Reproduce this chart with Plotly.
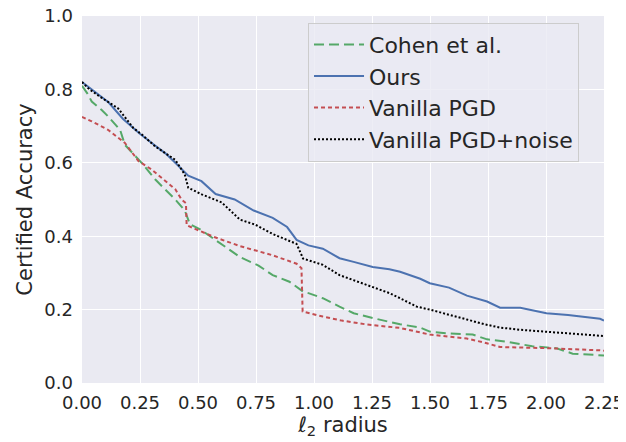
import plotly.graph_objects as go

# Cohen et al.
cohen_r = [0, 0.022, 0.042, 0.085, 0.113, 0.164, 0.185, 0.257, 0.315, 0.402, 0.443, 0.465, 0.516, 0.586, 0.607,
           0.681, 0.761, 0.822, 0.894, 0.953, 0.976, 1.038, 1.110, 1.171, 1.253, 1.371, 1.458, 1.499, 1.582, 1.684,
           1.746, 1.838, 1.941, 2.043, 2.115, 2.233, 2.25]
cohen_v = [0.81, 0.79, 0.767, 0.744, 0.726, 0.69, 0.649, 0.60, 0.555, 0.50, 0.47, 0.433, 0.416, 0.385, 0.375,
           0.343, 0.32, 0.294, 0.276, 0.249, 0.245, 0.231, 0.208, 0.19, 0.177, 0.16, 0.151, 0.14, 0.135, 0.132,
           0.119, 0.112, 0.10, 0.095, 0.08, 0.076, 0.075]

# Ours
ours_r = [0, 0.043, 0.114, 0.176, 0.248, 0.309, 0.361, 0.402, 0.458, 0.515, 0.576, 0.658, 0.740, 0.822, 0.884,
          0.925, 0.976, 1.038, 1.110, 1.171, 1.253, 1.325, 1.371, 1.458, 1.499, 1.582, 1.659, 1.746, 1.802, 1.889,
          2.002, 2.095, 2.233, 2.25]
ours_v = [0.82, 0.80, 0.765, 0.72, 0.68, 0.65, 0.625, 0.60, 0.565, 0.55, 0.515, 0.50, 0.47, 0.45, 0.425,
          0.39, 0.375, 0.366, 0.34, 0.33, 0.316, 0.31, 0.303, 0.284, 0.272, 0.26, 0.238, 0.222, 0.205, 0.205,
          0.19, 0.185, 0.175, 0.17]

# Vanilla PGD
pgd_r = [0, 0.042, 0.112, 0.185, 0.243, 0.299, 0.402, 0.429, 0.448, 0.451, 0.487, 0.573, 0.681, 0.822, 0.925,
         0.946, 0.951, 1.038, 1.120, 1.222, 1.371, 1.499, 1.659, 1.735, 1.802, 2.002, 2.233, 2.25]
pgd_v = [0.725, 0.713, 0.69, 0.654, 0.605, 0.582, 0.528, 0.50, 0.49, 0.43, 0.42, 0.397, 0.373, 0.348, 0.325,
         0.313, 0.195, 0.181, 0.17, 0.16, 0.15, 0.132, 0.121, 0.11, 0.098, 0.095, 0.089, 0.088]

# Vanilla PGD+noise
noise_r = [0, 0.032, 0.078, 0.128, 0.156, 0.221, 0.258, 0.315, 0.361, 0.402, 0.443, 0.458, 0.516, 0.602, 0.681,
           0.745, 0.822, 0.925, 0.953, 1.038, 1.110, 1.171, 1.253, 1.325, 1.371, 1.443, 1.499, 1.582, 1.659, 1.735,
           1.802, 1.889, 2.002, 2.125, 2.233, 2.25]
noise_v = [0.82, 0.80, 0.78, 0.76, 0.748, 0.695, 0.677, 0.645, 0.625, 0.608, 0.568, 0.532, 0.514, 0.492, 0.445,
           0.432, 0.406, 0.379, 0.339, 0.322, 0.294, 0.28, 0.262, 0.245, 0.231, 0.208, 0.20, 0.185, 0.173, 0.16,
           0.151, 0.145, 0.14, 0.135, 0.13, 0.128]

x_ticks = [0, 0.25, 0.5, 0.75, 1.0, 1.25, 1.5, 1.75, 2.0, 2.25]
x_tick_labels = ["0.00", "0.25", "0.50", "0.75", "1.00", "1.25", "1.50", "1.75", "2.00", "2.25"]
y_ticks = [0, 0.2, 0.4, 0.6, 0.8, 1.0]
y_tick_labels = ["0.0", "0.2", "0.4", "0.6", "0.8", "1.0"]

FONT = "DejaVu Sans"
TXT = "#262626"

fig = go.Figure()
fig.add_trace(go.Scatter(x=cohen_r, y=cohen_v, mode="lines", name="Cohen et al.",
                         line=dict(color="#55A868", width=2, dash="10px,5px")))
fig.add_trace(go.Scatter(x=ours_r, y=ours_v, mode="lines", name="Ours",
                         line=dict(color="#4C72B0", width=2)))
fig.add_trace(go.Scatter(x=pgd_r, y=pgd_v, mode="lines", name="Vanilla PGD",
                         line=dict(color="#C44E52", width=2, dash="4px,3px")))
fig.add_trace(go.Scatter(x=noise_r, y=noise_v, mode="lines", name="Vanilla PGD+noise",
                         line=dict(color="#000000", width=2, dash="2px,2px")))

# the page body adds an 8px offset, so the figure is 8px smaller than the window
fig.update_layout(
    width=618, height=434,
    margin=dict(l=74, r=22, t=8, b=59),
    paper_bgcolor="white",
    plot_bgcolor="#EAEAF2",
    font=dict(family=FONT, color=TXT, size=18),
    showlegend=True,
    legend=dict(x=0.433, y=0.982, xanchor="left", yanchor="top",
                bgcolor="rgba(234,234,242,0.8)", bordercolor="#CCCCCC", borderwidth=1,
                font=dict(family=FONT, size=22, color=TXT), tracegroupgap=0, itemwidth=50),
    xaxis=dict(range=[0, 2.25], tickvals=x_ticks, ticktext=x_tick_labels, automargin=False,
               ticklabeloverflow="allow",
               showgrid=True, gridcolor="white", gridwidth=1.2, zeroline=False,
               showline=False, ticks="", ticklabelstandoff=7, tickfont=dict(size=18, color=TXT),
               title=dict(text="ℓ<sub>2</sub> radius", font=dict(size=21, color=TXT), standoff=2)),
    yaxis=dict(range=[0, 1.0], tickvals=y_ticks, ticktext=y_tick_labels, automargin=False,
               ticklabeloverflow="allow",
               showgrid=True, gridcolor="white", gridwidth=1.2, zeroline=False,
               showline=False, ticks="", ticklabelstandoff=8, tickfont=dict(size=18, color=TXT),
               title=dict(text="Certified Accuracy", font=dict(size=21, color=TXT), standoff=6)),
)

fig.write_html("out.html")
